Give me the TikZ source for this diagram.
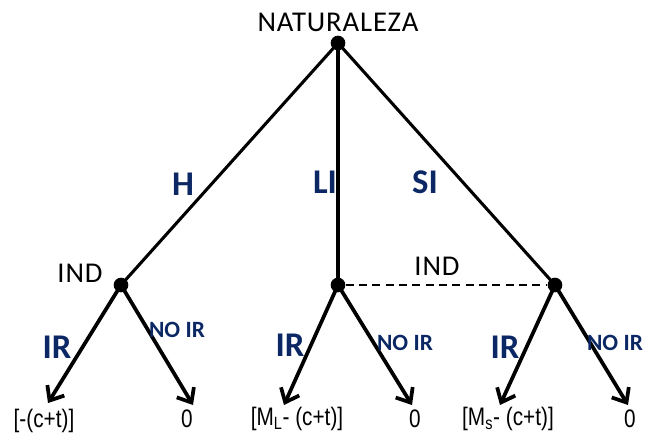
\documentclass[tikz,border=0pt]{standalone}
\usepackage{fontspec}
\setmainfont{Carlito}
\newfontfamily\payfont[FakeStretch=0.82]{Liberation Sans}
\usetikzlibrary{arrows.meta}
\definecolor{lblblue}{RGB}{12,40,100}
\tikzset{
  dot/.style={circle,fill=black,inner sep=0pt,minimum size=11pt},
  branch/.style={line width=2.3pt},
  leafarrow/.style={line width=2.8pt,-{Straight Barb[length=9pt,width=15pt,line width=2.8pt]}},
  blk/.style={font=\fontsize{21.5}{24}\selectfont\addfontfeature{LetterSpace=3},text=black},
  act/.style={font=\fontsize{26}{28}\selectfont\bfseries,text=lblblue},
  small/.style={font=\fontsize{17.5}{20}\selectfont\bfseries,text=lblblue},
  pay/.style={font=\payfont\fontsize{19}{22}\selectfont,text=black},
}
\begin{document}
\begin{tikzpicture}[x=0.75pt,y=-0.75pt]
\useasboundingbox (0,0) rectangle (645,433);
% nodes
\node[dot] (root) at (338,43) {};
\node[dot] (n1) at (121,285) {};
\node[dot] (n2) at (338,285) {};
\node[dot] (n3) at (555,285) {};
\coordinate (l1) at (48,403);
\coordinate (l2) at (193,405);
\coordinate (l3) at (284,405);
\coordinate (l4) at (412,405);
\coordinate (l5) at (500,405);
\coordinate (l6) at (628,405);
% branches
\draw[branch] (root.center) -- (n1.center);
\draw[branch] (root.center) -- (n2.center);
\draw[branch] (root.center) -- (n3.center);
\draw[line width=0.8pt,dash pattern=on 6pt off 4pt] (n2) -- (n3);
\draw[leafarrow] (n1.center) -- (l1);
\draw[leafarrow] (n1.center) -- (l2);
\draw[leafarrow] (n2.center) -- (l3);
\draw[leafarrow] (n2.center) -- (l4);
\draw[leafarrow] (n3.center) -- (l5);
\draw[leafarrow] (n3.center) -- (l6);
% texts
\node[blk] (tnat) at (338,22) {NATURALEZA};
\node[blk] (tind1) at (80,273) {IND};
\node[blk] (tind2) at (437,266) {IND};
\node[act] (th) at (183,184) {H};
\node[act] (tli) at (325,182) {LI};
\node[act] (tsi) at (425,182) {SI};
\node[act] (tir1) at (57,347) {IR};
\node[act] (tir2) at (290,345) {IR};
\node[act] (tir3) at (505,347) {IR};
\node[small] (tno1) at (177,330) {NO IR};
\node[small] (tno2) at (405,343) {NO IR};
\node[small] (tno3) at (615,343) {NO IR};
\node[pay] (p1) at (44,421) {[-(c+t)]};
\node[pay] (p2) at (187,419) {0};
\node[pay] (p3) at (297,419) {[M\textsubscript{L}- (c+t)]};
\node[pay] (p4) at (415,419) {0};
\node[pay] (p5) at (508,419) {[M\textsubscript{s}- (c+t)]};
\node[pay] (p6) at (630,419) {0};
\end{tikzpicture}
\end{document}
